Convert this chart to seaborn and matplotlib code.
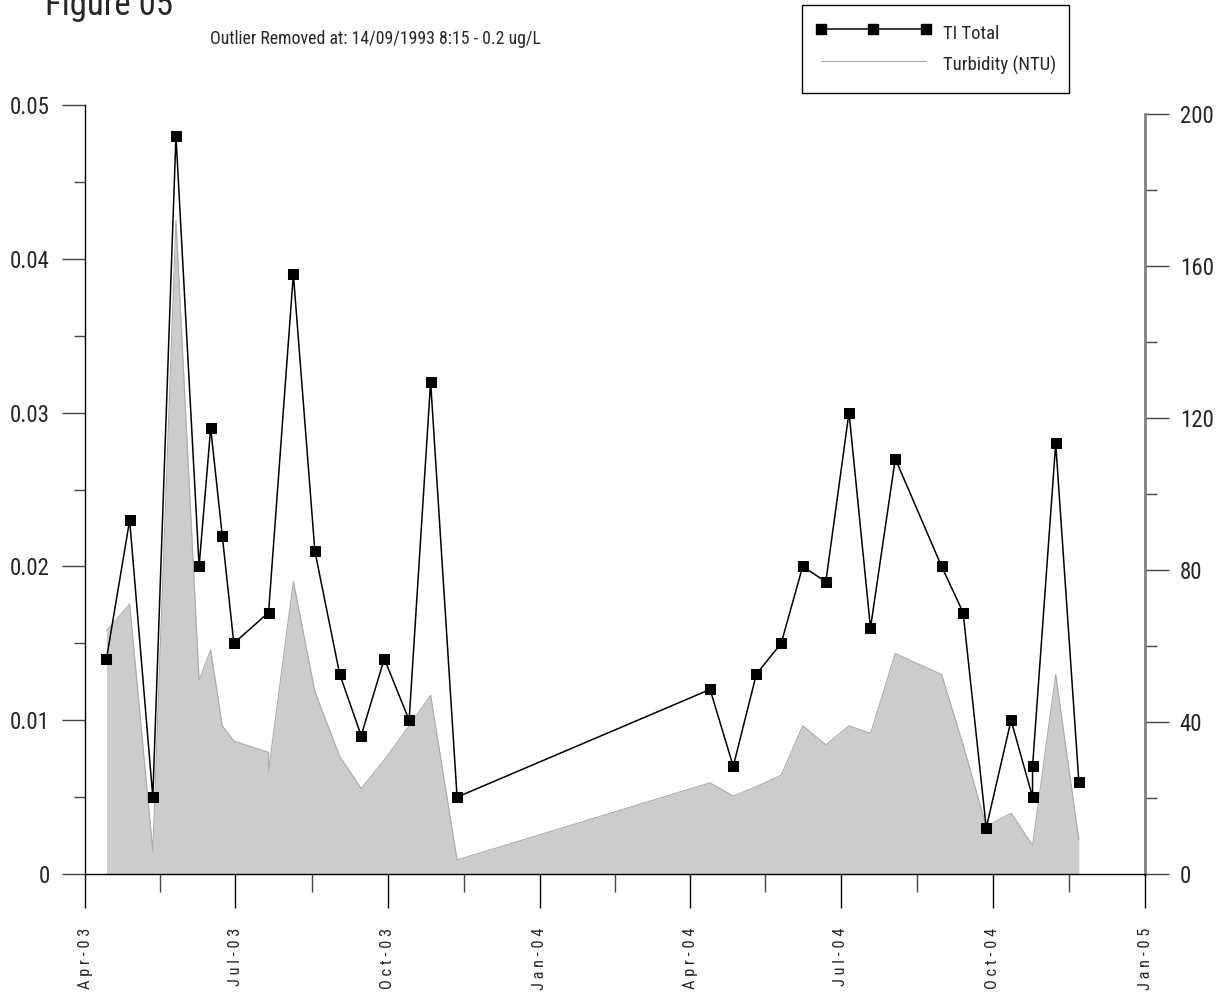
#TI total vs turbidity chart
import pandas as pd
import seaborn as sns
import numpy as np
import matplotlib.pyplot as plt
import matplotlib.dates as mdates
from matplotlib import font_manager
from matplotlib.lines import Line2D
from matplotlib.ticker import FixedLocator, FixedFormatter

#TI total samples (ug/L)
ti_dates = ["2003-04-14", "2003-04-28", "2003-05-12", "2003-05-26", "2003-06-09",
            "2003-06-16", "2003-06-23", "2003-06-30", "2003-07-21", "2003-08-05",
            "2003-08-18", "2003-09-02", "2003-09-15", "2003-09-29", "2003-10-14",
            "2003-10-27", "2003-11-12", "2004-04-13", "2004-04-27", "2004-05-11",
            "2004-05-26", "2004-06-08", "2004-06-22", "2004-07-06", "2004-07-19",
            "2004-08-03", "2004-08-31", "2004-09-13", "2004-09-27", "2004-10-12",
            "2004-10-25", "2004-10-25", "2004-11-08", "2004-11-22"]
ti_values = [0.014, 0.023, 0.005, 0.048, 0.020,
             0.029, 0.022, 0.015, 0.017, 0.039,
             0.021, 0.013, 0.009, 0.014, 0.010,
             0.032, 0.005, 0.012, 0.007, 0.013,
             0.015, 0.020, 0.019, 0.030, 0.016,
             0.027, 0.020, 0.017, 0.003, 0.010,
             0.005, 0.007, 0.028, 0.006]

#turbidity samples (NTU)
turb_dates = ["2003-04-14", "2003-04-28", "2003-05-12", "2003-05-26", "2003-06-09",
              "2003-06-16", "2003-06-23", "2003-06-30", "2003-07-21", "2003-07-21",
              "2003-08-05", "2003-08-18", "2003-09-02", "2003-09-15", "2003-09-29",
              "2003-10-14", "2003-10-27", "2003-11-12", "2004-04-13", "2004-04-27",
              "2004-05-11", "2004-05-26", "2004-06-08", "2004-06-22", "2004-07-06",
              "2004-07-19", "2004-08-03", "2004-08-31", "2004-09-13", "2004-09-27",
              "2004-10-12", "2004-10-25", "2004-11-08", "2004-11-22"]
turb_values = [64, 71, 6, 172, 51,
               59, 39, 35, 32, 27,
               77, 48, 31, 22.5, 30,
               39, 47, 3.7, 24, 20.5,
               23, 26, 39, 34, 39,
               37, 58, 52.5, 34, 12.5,
               16, 7.5, 52.5, 9]

#axis ticks
quarter_dates = ["2003-04-01", "2003-07-01", "2003-10-01", "2004-01-01",
                 "2004-04-01", "2004-07-01", "2004-10-01", "2005-01-01"]
quarter_labels = ["Apr-03", "Jul-03", "Oct-03", "Jan-04", "Apr-04", "Jul-04", "Oct-04", "Jan-05"]
left_ticks = [0, 0.01, 0.02, 0.03, 0.04, 0.05]
left_labels = ["0", "0.01", "0.02", "0.03", "0.04", "0.05"]
right_ticks = [0, 40, 80, 120, 160, 200]
right_labels = ["0", "40", "80", "120", "160", "200"]

ti = pd.DataFrame({"date": pd.to_datetime(ti_dates), "ti": ti_values})
turb = pd.DataFrame({"date": pd.to_datetime(turb_dates), "ntu": turb_values})

sns.set_style("white")

#narrow font if one is installed, else regular one with smaller sizes
names = {f.name for f in font_manager.fontManager.ttflist}
narrow = [n for n in ["Liberation Sans Narrow", "Arial Narrow", "Roboto Condensed"] if n in names]
if narrow:
    plt.rcParams["font.family"] = [narrow[0], "DejaVu Sans"]
    k = 1.0
else:
    plt.rcParams["font.family"] = ["Liberation Sans", "DejaVu Sans"]
    k = 0.84

fig = plt.figure(figsize=(12.27, 10.02), dpi=100)
ax = fig.add_axes([85/1227, 128/1002, 1060/1227, 769/1002])
ax2 = ax.twinx()

#turbidity area (right axis)
ax2.fill_between(turb["date"], turb["ntu"], 0, color="#cccccc", lw=0, zorder=1)
sns.lineplot(data=turb, x="date", y="ntu", ax=ax2, color="#aaaaaa", lw=0.8,
             estimator=None, sort=False, zorder=2)

#TI line (left axis) on top
ax.set_zorder(ax2.get_zorder() + 1)
ax.patch.set_visible(False)
sns.lineplot(data=ti, x="date", y="ti", ax=ax, color="black", lw=1.1,
             marker="s", markersize=6.5, markeredgecolor="black",
             estimator=None, sort=False)

#x axis
qnum = mdates.date2num(pd.to_datetime(quarter_dates))
ax.set_xlim(qnum[0], qnum[-1])
ax.xaxis.set_major_locator(FixedLocator(qnum))
ax.xaxis.set_major_formatter(FixedFormatter([" ".join(l) for l in quarter_labels]))
ax.xaxis.set_minor_locator(FixedLocator((qnum[:-1] + qnum[1:]) / 2))
ax.tick_params(axis="x", which="major", length=24.5, width=1, color="black",
               labelsize=11.8 * k, pad=14, labelrotation=90, bottom=True)
ax.tick_params(axis="x", which="minor", length=13, width=1, color="#444444", bottom=True)

#left y axis
ax.set_ylim(0, 0.05)
ax.yaxis.set_major_locator(FixedLocator(left_ticks))
ax.yaxis.set_major_formatter(FixedFormatter(left_labels))
ax.yaxis.set_minor_locator(FixedLocator(np.arange(0.005, 0.05, 0.01)))
ax.tick_params(axis="y", which="major", length=16.5, width=1, color="#444444",
               labelsize=16.5 * k, pad=9, left=True)
ax.tick_params(axis="y", which="minor", length=8, width=1, color="#444444", left=True)

#right y axis
ax2.set_ylim(0, 200 * 769 / 760)
ax2.yaxis.set_major_locator(FixedLocator(right_ticks))
ax2.yaxis.set_major_formatter(FixedFormatter(right_labels))
ax2.yaxis.set_minor_locator(FixedLocator([20, 60, 100, 140, 180]))
ax2.tick_params(axis="y", which="major", length=17, width=1, color="#444444",
                labelsize=16.5 * k, pad=8, right=True)
ax2.tick_params(axis="y", which="minor", length=8.5, width=1, color="#444444", right=True)

ax.set_xlabel("")
ax.set_ylabel("")
ax2.set_ylabel("")

for s in ["top", "right"]:
    ax.spines[s].set_visible(False)
for s in ["top", "left", "bottom"]:
    ax2.spines[s].set_visible(False)
ax.spines["left"].set_color("black")
ax.spines["left"].set_linewidth(1)
ax.spines["bottom"].set_color("black")
ax.spines["bottom"].set_linewidth(1)
ax2.spines["right"].set_color("#808080")
ax2.spines["right"].set_linewidth(2)
ax2.spines["right"].set_bounds(0, 200)

#legend
lfs = 13.5 * k
handles = [Line2D([], [], color="black", lw=1.1, marker="s", markersize=6.5),
           Line2D([], [], color="#aaaaaa", lw=0.8)]
leg = fig.legend(handles, ["TI Total", "Turbidity (NTU)"], loc="upper left",
                 bbox_to_anchor=(802/1227, 1 - 5/1002), fontsize=lfs, numpoints=3,
                 handlelength=84/lfs, handletextpad=8/lfs, borderpad=9.4/lfs,
                 handleheight=2.1, labelspacing=0.1, borderaxespad=0,
                 fancybox=False, framealpha=1)
leg.get_frame().set_edgecolor("black")
leg.get_frame().set_linewidth(1)

#titles
fig.text(45/1227, 1 - 15/1002, "Figure 05", fontsize=25 * k, ha="left", va="baseline")
fig.text(210/1227, 1 - 44/1002, "Outlier Removed at: 14/09/1993 8:15 - 0.2 ug/L",
         fontsize=12.8 * k, ha="left", va="baseline")

fig.savefig("out.png", dpi=100)
